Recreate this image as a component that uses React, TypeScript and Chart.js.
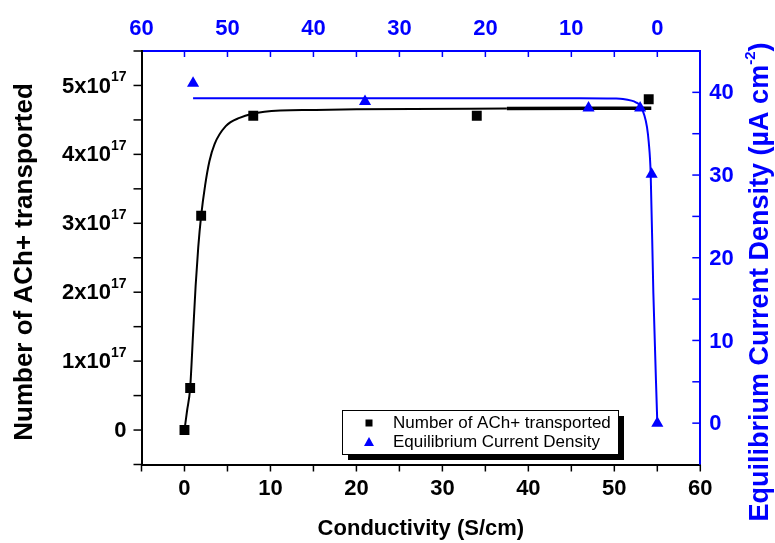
import React, { useEffect, useRef } from 'react';
import { Chart, registerables } from 'chart.js';

Chart.register(...registerables);

// ---- data ----
const conductivity = [0, 0.66, 1.94, 8, 34, 54];
const achTransported = [0, 0.61e17, 3.11e17, 4.56e17, 4.56e17, 4.8e17];

const fitConductivity = [0, 0.3, 0.66, 1.0, 1.3, 1.6, 1.94, 2.4, 2.9, 3.5, 4.8, 6.4, 9.3, 15, 20, 37.5, 54.3];
const fitAch = [0, 0.28e17, 0.61e17, 1.4e17, 2.1e17, 2.65e17, 3.11e17, 3.55e17, 3.9e17, 4.15e17, 4.41e17, 4.53e17, 4.62e17, 4.645e17, 4.655e17, 4.665e17, 4.67e17];

const eqConductivity = [54, 34, 8, 2, 0.66, 0];
const eqCurrentDensity = [41.1, 38.9, 38.1, 38.1, 30.1, 0];

const eqFitConductivity = [54, 30, 15, 9, 5, 4, 3, 2.5, 2, 1.5, 1.2, 1.0, 0.77, 0.46, 0];
const eqFitCurrent = [39.3, 39.3, 39.3, 39.3, 39.25, 39.2, 39.0, 38.8, 38.4, 37.2, 35.8, 34.0, 30.1, 15.7, 0];

const bottomTicks = [-5, 0, 5, 10, 15, 20, 25, 30, 35, 40, 45, 50, 55, 60];
const bottomLabels = [0, 10, 20, 30, 40, 50, 60];
const topTicks = [0, 5, 10, 15, 20, 25, 30, 35, 40, 45, 50, 55];
const topLabels = [60, 50, 40, 30, 20, 10, 0];
const leftTicks = [-0.5e17, 0, 0.5e17, 1e17, 1.5e17, 2e17, 2.5e17, 3e17, 3.5e17, 4e17, 4.5e17, 5e17, 5.5e17];
const leftLabels = [0, 1, 2, 3, 4, 5];
const rightTicks = [0, 5, 10, 15, 20, 25, 30, 35, 40];
const rightLabels = [0, 10, 20, 30, 40];

const xTitle = 'Conductivity (S/cm)';
const yTitle = 'Number of ACh+ transported';
const y2Title = 'Equilibrium Current Density (\u00b5A cm';
const seriesNames = ['Number of ACh+ transported', 'Equilibrium Current Density'];

const FONT = '"Liberation Sans", Arial, Helvetica, sans-serif';
const BLUE = '#0000ff';
const TICK_FONT = 22;
const X_TITLE_FONT = 22;
const Y_TITLE_FONT = 26;
const Y2_TITLE_FONT = 27;

const decor = {
  id: 'decor',
  afterDraw(chart: any) {
    const ctx: CanvasRenderingContext2D = chart.ctx;
    const { x, x2, y, y2 } = chart.scales;
    const a = chart.chartArea;
    const line = (x1: number, y1: number, xx: number, yy: number) => {
      ctx.beginPath();
      ctx.moveTo(x1, y1);
      ctx.lineTo(xx, yy);
      ctx.stroke();
    };
    ctx.save();
    ctx.lineWidth = 1.5;
    // ticks
    ctx.strokeStyle = '#000';
    bottomTicks.forEach((v) => {
      const p = x.getPixelForValue(v);
      line(p, a.bottom, p, a.bottom + 7);
    });
    leftTicks.forEach((v) => {
      const p = y.getPixelForValue(v);
      line(a.left - 8, p, a.left, p);
    });
    ctx.strokeStyle = BLUE;
    topTicks.forEach((v) => {
      const p = x2.getPixelForValue(v);
      line(p, a.top, p, a.top + 6);
    });
    rightTicks.forEach((v) => {
      const p = y2.getPixelForValue(v);
      line(a.right - 8, p, a.right, p);
    });

    // tick labels
    ctx.textBaseline = 'middle';
    ctx.font = `bold ${TICK_FONT}px ${FONT}`;
    ctx.fillStyle = '#000';
    ctx.textAlign = 'center';
    bottomLabels.forEach((v) => {
      ctx.fillText(String(v), x.getPixelForValue(v), 489);
    });
    ctx.fillStyle = BLUE;
    topLabels.forEach((v) => {
      ctx.fillText(String(v), x2.getPixelForValue(v), 29);
    });
    ctx.textAlign = 'left';
    rightLabels.forEach((v) => {
      ctx.fillText(String(v), a.right + 9, y2.getPixelForValue(v) + 1);
    });
    // left scientific labels
    ctx.fillStyle = '#000';
    const xRight = a.left - 15;
    leftLabels.forEach((n) => {
      const py = y.getPixelForValue(n * 1e17) + 1;
      if (n === 0) {
        ctx.font = `bold ${TICK_FONT}px ${FONT}`;
        ctx.textAlign = 'right';
        ctx.fillText('0', xRight, py);
        return;
      }
      ctx.font = `bold 14px ${FONT}`;
      const sup = '17';
      const sw = ctx.measureText(sup).width;
      ctx.font = `bold ${TICK_FONT}px ${FONT}`;
      const main = `${n}x10`;
      const mw = ctx.measureText(main).width;
      const x0 = xRight - sw - mw;
      ctx.textAlign = 'left';
      ctx.fillText(main, x0, py);
      ctx.font = `bold 14px ${FONT}`;
      ctx.fillText(sup, x0 + mw, py - 9);
    });

    // axis titles
    ctx.font = `bold ${X_TITLE_FONT}px ${FONT}`;
    ctx.fillStyle = '#000';
    ctx.textAlign = 'center';
    ctx.fillText(xTitle, (a.left + a.right) / 2, 529);

    ctx.save();
    ctx.font = `bold ${Y_TITLE_FONT}px ${FONT}`;
    ctx.translate(25, 262);
    ctx.rotate(-Math.PI / 2);
    ctx.fillText(yTitle, 0, 0);
    ctx.restore();

    ctx.save();
    ctx.fillStyle = BLUE;
    ctx.translate(761, 282);
    ctx.rotate(-Math.PI / 2);
    ctx.font = `bold ${Y2_TITLE_FONT}px ${FONT}`;
    const w1 = ctx.measureText(y2Title).width;
    ctx.font = `bold 15px ${FONT}`;
    const w2 = ctx.measureText('-2').width;
    ctx.font = `bold ${Y2_TITLE_FONT}px ${FONT}`;
    const w3 = ctx.measureText(')').width;
    const tot = w1 + w2 + w3;
    let cx = -tot / 2;
    ctx.textAlign = 'left';
    ctx.fillText(y2Title, cx, 0);
    cx += w1;
    ctx.font = `bold 15px ${FONT}`;
    ctx.fillText('-2', cx, -10);
    cx += w2;
    ctx.font = `bold ${Y2_TITLE_FONT}px ${FONT}`;
    ctx.fillText(')', cx, 0);
    ctx.restore();

    // legend
    const lx = 342, ly = 410, lw = 276, lh = 44, sh = 6;
    ctx.fillStyle = '#000';
    ctx.fillRect(lx + sh, ly + sh, lw, lh);
    ctx.fillStyle = '#fff';
    ctx.fillRect(lx, ly, lw, lh);
    ctx.strokeStyle = '#000';
    ctx.lineWidth = 1;
    ctx.strokeRect(lx + 0.5, ly + 0.5, lw, lh);
    ctx.fillStyle = '#000';
    ctx.fillRect(369 - 3.5, 423 - 3.5, 7, 7);
    ctx.fillStyle = BLUE;
    ctx.beginPath();
    ctx.moveTo(369, 437);
    ctx.lineTo(374, 446);
    ctx.lineTo(364, 446);
    ctx.closePath();
    ctx.fill();
    ctx.fillStyle = '#000';
    ctx.font = `17px ${FONT}`;
    ctx.textAlign = 'left';
    ctx.fillText(seriesNames[0], 393, 423);
    ctx.fillText(seriesNames[1], 393, 442);
    ctx.restore();
  },
};

export default function App() {
  const ref = useRef<HTMLCanvasElement | null>(null);
  useEffect(() => {
    if (!ref.current) return;
    const pts = (xs: number[], ys: number[]) => xs.map((v, i) => ({ x: v, y: ys[i] }));
    const hidden = { display: false };
    const chart = new Chart(ref.current, {
      type: 'scatter',
      data: {
        datasets: [
          {
            label: seriesNames[0],
            data: pts(conductivity, achTransported),
            xAxisID: 'x',
            yAxisID: 'y',
            pointStyle: 'rect',
            pointRadius: 7,
            backgroundColor: '#000',
            borderWidth: 0,
            showLine: false,
          },
          {
            label: seriesNames[1],
            data: pts(eqConductivity, eqCurrentDensity),
            xAxisID: 'x2',
            yAxisID: 'y2',
            pointStyle: 'triangle',
            pointRadius: 7,
            backgroundColor: BLUE,
            borderWidth: 0,
            showLine: false,
          },
          {
            label: 'fit1',
            data: pts(fitConductivity, fitAch),
            xAxisID: 'x',
            yAxisID: 'y',
            showLine: true,
            pointRadius: 0,
            borderColor: '#000',
            borderWidth: 2,
            cubicInterpolationMode: 'monotone',
            segment: {
              borderWidth: (c: any) => (c.p0.parsed.x >= 37 ? 3.5 : 2),
            },
          } as any,
          {
            label: 'fit2',
            data: pts(eqFitConductivity, eqFitCurrent),
            xAxisID: 'x2',
            yAxisID: 'y2',
            showLine: true,
            pointRadius: 0,
            borderColor: BLUE,
            borderWidth: 2,
            cubicInterpolationMode: 'monotone',
          } as any,
        ],
      },
      options: {
        animation: false,
        responsive: false,
        events: [],
        layout: { padding: 0 },
        plugins: { legend: { display: false }, tooltip: { enabled: false } },
        scales: {
          x: {
            type: 'linear',
            position: 'bottom',
            min: -5,
            max: 60,
            ticks: hidden,
            grid: { display: true, drawOnChartArea: false, drawTicks: false },
            border: { display: true, color: '#000', width: 2 },
            afterFit: (s: any) => { s.height = 78.5; },
          },
          x2: {
            type: 'linear',
            position: 'top',
            reverse: true,
            min: -5,
            max: 60,
            ticks: hidden,
            grid: { display: true, drawOnChartArea: false, drawTicks: false },
            border: { display: true, color: BLUE, width: 2 },
            afterFit: (s: any) => { s.height = 51; },
          },
          y: {
            type: 'linear',
            position: 'left',
            min: -0.5e17,
            max: 5.5e17,
            ticks: hidden,
            grid: { display: true, drawOnChartArea: false, drawTicks: false },
            border: { display: true, color: '#000', width: 2 },
            afterFit: (s: any) => { s.width = 141.5; },
          },
          y2: {
            type: 'linear',
            position: 'right',
            min: -5,
            max: 45,
            ticks: hidden,
            grid: { display: true, drawOnChartArea: false, drawTicks: false },
            border: { display: true, color: BLUE, width: 2 },
            afterFit: (s: any) => { s.width = 74.7; },
          },
        },
      } as any,
      plugins: [decor],
    });
    return () => chart.destroy();
  }, []);
  return (
    <div style={{ position: 'fixed', left: 0, top: 0, width: 775, height: 543, background: '#fff' }}>
      <canvas ref={ref} width={775} height={543} style={{ display: 'block' }} />
    </div>
  );
}
